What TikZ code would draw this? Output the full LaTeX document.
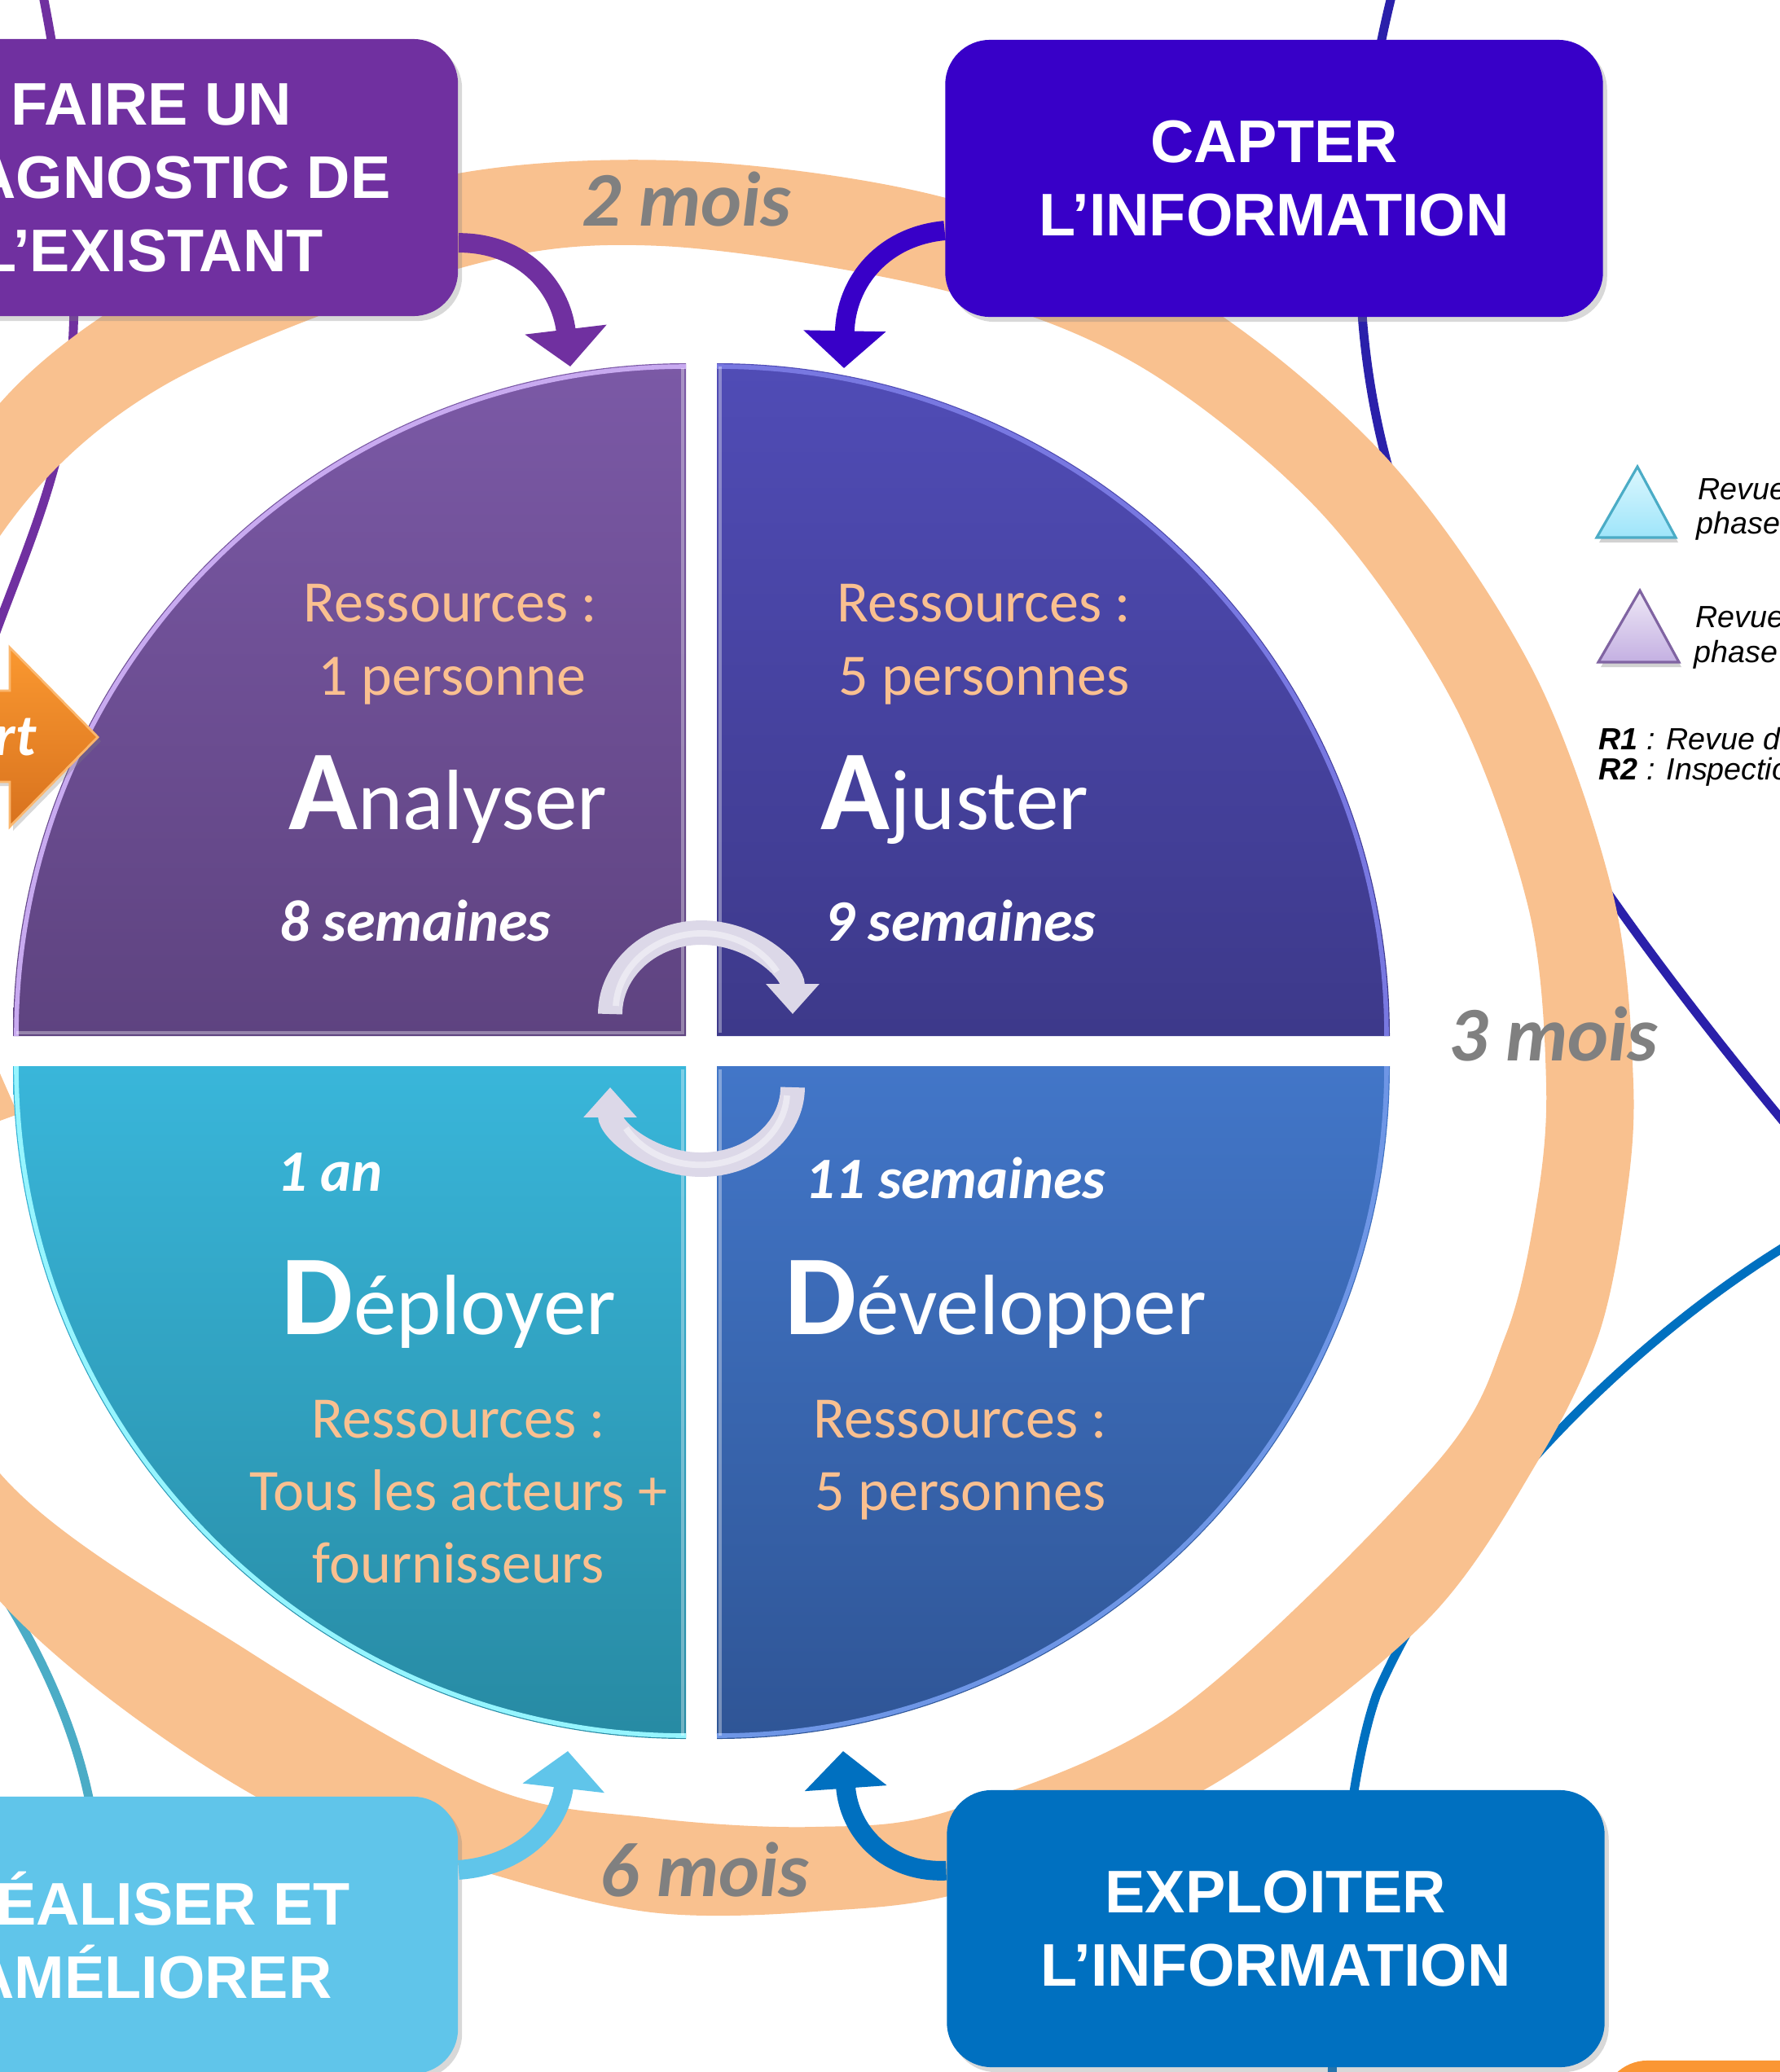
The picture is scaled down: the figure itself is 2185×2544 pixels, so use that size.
\documentclass[tikz,border=0pt]{standalone}
\usepackage{fontspec}
\setmainfont{Liberation Sans}
\newfontfamily\calfont{Carlito}
\usetikzlibrary{arrows.meta,shadows}
\definecolor{ringc}{RGB}{249,193,143}
\definecolor{peach}{RGB}{250,192,144}
\definecolor{boxpurple}{RGB}{112,48,160}
\definecolor{boxviolet}{RGB}{56,0,200}
\definecolor{boxlight}{RGB}{96,197,234}
\definecolor{boxblue}{RGB}{0,112,192}
\definecolor{boxorange}{RGB}{250,150,51}
\definecolor{linedark}{RGB}{42,32,170}
\definecolor{lineteal}{RGB}{75,172,198}
\definecolor{durgray}{RGB}{128,128,128}
\definecolor{ulTop}{RGB}{123,89,166}
\definecolor{ulBot}{RGB}{94,67,128}
\definecolor{urTop}{RGB}{80,76,182}
\definecolor{urBot}{RGB}{61,57,138}
\definecolor{llTop}{RGB}{57,182,218}
\definecolor{llBot}{RGB}{39,138,163}
\definecolor{lrTop}{RGB}{66,118,200}
\definecolor{lrBot}{RGB}{47,85,150}
\definecolor{ulRim}{RGB}{200,170,240}
\definecolor{urRim}{RGB}{120,120,225}
\definecolor{llRim}{RGB}{150,245,255}
\definecolor{lrRim}{RGB}{110,150,230}
\definecolor{cyc}{RGB}{220,216,232}
\definecolor{orangeA}{RGB}{250,152,48}
\definecolor{orangeB}{RGB}{216,114,30}
\definecolor{triCyanTop}{RGB}{220,247,254}
\definecolor{triCyanBot}{RGB}{158,229,250}
\definecolor{triCyanLine}{RGB}{75,172,198}
\definecolor{triPurTop}{RGB}{238,232,246}
\definecolor{triPurBot}{RGB}{196,176,226}
\definecolor{triPurLine}{RGB}{128,100,162}
\newcommand{\phword}[2]{{\fontsize{39.8}{40}\selectfont\bfseries #1}{\fontsize{29.9}{30}\selectfont #2}}
\tikzset{
  bigbox/.style={rounded corners=0.55cm, minimum width=8.07cm, minimum height=3.4cm,
     align=center, text=white, inner sep=0pt,
     font=\bfseries\fontsize{21}{25.6}\selectfont,
     drop shadow={opacity=0.3, shadow xshift=0.05cm, shadow yshift=-0.06cm}},
  leftbox/.style={bigbox, minimum width=7.52cm},
  conn/.style={line width=3.1pt},
  fatarrow/.style={line width=6.8pt, -{Triangle[width=28pt,length=13pt]}},
  cycarrow/.style={line width=8.5pt, draw=cyc, -{Triangle[width=18pt,length=10.5pt]}},
  restxt/.style={font=\calfont\fontsize{20.5}{25}\selectfont, text=peach, inner sep=0pt, anchor=base},
  semtxt/.style={font=\calfont\bfseries\itshape\fontsize{20.5}{25}\selectfont, text=white, inner sep=0pt, anchor=base},
  phtxt/.style={font=\calfont, text=white, inner sep=0pt, anchor=base},
  moistxt/.style={font=\calfont\bfseries\itshape\fontsize{27}{30}\selectfont, text=durgray, inner sep=0pt, anchor=base},
  legtxt/.style={font=\itshape\fontsize{10.7}{12}\selectfont, text=black, inner sep=0pt, anchor=base west}
}
\begin{document}
\begin{tikzpicture}[x=0.01cm, y=-0.01cm]
\useasboundingbox (0,0) rectangle (2185,2544);
\fill[white] (0,0) rectangle (2185,2544);

% ---------- thin connectors (under ring and boxes)
\coordinate (pA) at (50,-20);
\coordinate (pB) at (-10,790);
\draw[conn, boxpurple] (pA) .. controls (95,200) and (105,420) .. (70,560) .. controls (50,640) and (15,720) .. (pB);
\coordinate (dA) at (1712,-20);
\coordinate (dB) at (2200,1390);
\draw[conn, linedark] (dA) .. controls (1655,200) and (1650,430) .. (1725,640) .. controls (1800,850) and (1950,1090) .. (dB);
\coordinate (eA) at (2200,1525);
\coordinate (eB) at (1635,2560);
\draw[conn, boxblue] (eA) .. controls (2010,1640) and (1790,1850) .. (1690,2080) .. controls (1665,2150) and (1640,2300) .. (eB);
\coordinate (tA) at (-50,1880);
\coordinate (tB) at (115,2240);
\draw[conn, lineteal] (tA) .. controls (30,1985) and (95,2110) .. (tB);

% ---------- peach ring
\fill[ringc, even odd rule]
  plot[smooth cycle, tension=0.55] coordinates {(850,198) (1161,243) (1450,356) (1700,560) (1880,820) (1980,1098) (2005,1330) (1995,1480) (1962,1640) (1890,1790) (1750,1991) (1491,2190) (1200,2318) (1000,2347) (800,2348) (600,2300) (318,2208) (0,1966) (-220,1620) (-290,1250) (-220,870) (0,495) (280,300) (562,213)}
  plot[smooth cycle, tension=0.55] coordinates {(812,302) (1161,357) (1400,450) (1621,629) (1784,863) (1876,1114) (1898,1330) (1886,1480) (1848,1640) (1760,1800) (1446,2100) (1170,2222) (1000,2243) (800,2232) (600,2194) (306,2028) (0,1809) (-150,1500) (-180,1230) (-130,950) (0,658) (200,474) (562,330)};
\fill[ringc] (0,1318) -- (22,1368) -- (0,1376) -- cycle;

\node[moistxt] (m2) at (843,277) {2 mois};
\node[moistxt] (m3) at (1907,1302) {3 mois};
\node[moistxt] (m6) at (865,2328) {6 mois};

% ---------- boxes
\node[leftbox, fill=boxpurple] (b1) at (186,218) {FAIRE UN\\DIAGNOSTIC DE\\L’EXISTANT};
\node[bigbox, fill=boxviolet] (b2) at (1564,219) {CAPTER\\L’INFORMATION};
\node[leftbox, fill=boxlight] (b3) at (186,2376) {RÉALISER ET\\AMÉLIORER};
\node[bigbox, fill=boxblue] (b4) at (1566,2368) {EXPLOITER\\L’INFORMATION};
\node[bigbox, fill=boxorange] (b5) at (2371,2700) {};

% ---------- fat curved arrows from boxes
\coordinate (t1) at (700,450);
\coordinate (t2) at (1036,452);
\coordinate (t3) at (697,2150);
\coordinate (t4) at (1035,2150);
\draw[fatarrow, boxpurple] (b1.-12.3) .. controls (640,298) and (688,350) .. (t1);
\draw[fatarrow, boxviolet] (b2.189.7) .. controls (1085,290) and (1038,345) .. (t2);
\draw[fatarrow, boxlight] (b3.12.7) .. controls (635,2291) and (686,2245) .. (t3);
\draw[fatarrow, boxblue] (b4.170.4) .. controls (1090,2300) and (1042,2250) .. (t4);

% ---------- quadrants
\shade[top color=ulTop, bottom color=ulBot] (842,1272) -- (16,1272) arc[start angle=180, end angle=270, radius=826] -- cycle;
\shade[top color=urTop, bottom color=urBot] (880,1272) -- (880,446) arc[start angle=270, end angle=360, radius=826] -- cycle;
\shade[top color=llTop, bottom color=llBot] (842,1309) -- (16,1309) arc[start angle=180, end angle=90, radius=826] -- cycle;
\shade[top color=lrTop, bottom color=lrBot] (880,1309) -- (880,2135) arc[start angle=90, end angle=0, radius=826] -- cycle;
\draw[ulRim, line width=1.6pt] (20,1272) arc[start angle=180, end angle=270, radius=822];
\draw[urRim, line width=1.6pt] (880,450) arc[start angle=270, end angle=360, radius=822];
\draw[llRim, line width=1.6pt] (20,1309) arc[start angle=180, end angle=90, radius=822];
\draw[lrRim, line width=1.6pt] (880,2131) arc[start angle=90, end angle=0, radius=822];
\draw[white, opacity=0.35, line width=1.2pt] (838,452) -- (838,1268) -- (20,1268);
\draw[white, opacity=0.35, line width=1.2pt] (838,1313) -- (838,2131);
\draw[white, opacity=0.35, line width=1.2pt] (884,450) -- (884,1268);
\draw[white, opacity=0.35, line width=1.2pt] (884,1313) -- (884,2131);

% ---------- quadrant texts
\node[restxt] (q1r) at (553,763) {Ressources :};
\node[restxt] (q1p) at (555,853) {1 personne};
\node[phtxt] (q1n) at (550,1018) {\phword{A}{nalyser}};
\node[semtxt] (q1s) at (510,1155) {8 semaines};

\node[restxt] (q2r) at (1208,763) {Ressources :};
\node[restxt] (q2p) at (1208,853) {5 personnes};
\node[phtxt] (q2n) at (1172,1018) {\phword{A}{juster}};
\node[semtxt] (q2s) at (1179,1155) {9 semaines};

\node[semtxt] (q3s) at (405,1462) {1 an};
\node[phtxt] (q3n) at (551,1638) {\phword{D}{éployer}};
\node[restxt] (q3r) at (563,1765) {Ressources :};
\node[restxt] (q3a) at (563,1854) {Tous les acteurs +};
\node[restxt] (q3f) at (563,1943) {fournisseurs};

\node[semtxt] (q4s) at (1173,1471) {11 semaines};
\node[phtxt] (q4n) at (1222,1638) {\phword{D}{évelopper}};
\node[restxt] (q4r) at (1179,1765) {Ressources :};
\node[restxt] (q4p) at (1179,1854) {5 personnes};

% ---------- central cycle arrows
\draw[cycarrow] (749,1245) arc[start angle=180, end angle=360, x radius=112, y radius=100];
\draw[white, opacity=0.45, line width=2.2pt] (756,1235) arc[start angle=183, end angle=330, x radius=106, y radius=94];
\draw[cycarrow] (973,1335) arc[start angle=0, end angle=180, x radius=112, y radius=95];
\draw[white, opacity=0.45, line width=2.2pt] (966,1345) arc[start angle=3, end angle=150, x radius=106, y radius=90];

% ---------- start arrow
\shade[top color=orangeA, bottom color=orangeB, draw=orangeA!70!white, line width=0.8pt,
  drop shadow={opacity=0.3, shadow xshift=0.04cm, shadow yshift=-0.05cm}]
  (-80,848) -- (12,848) -- (12,795) -- (120,905) -- (12,1015) -- (12,960) -- (-80,960) -- cycle;
\node[semtxt, anchor=base east] (st) at (45,927) {Départ};

% ---------- legend
\fill[black, opacity=0.18] (1963,666) -- (2013,579) -- (2060,666) -- cycle;
\shade[top color=triCyanTop, bottom color=triCyanBot, draw=triCyanLine, line width=0.9pt] (1960,660) -- (2010,573) -- (2057,660) -- cycle;
\fill[black, opacity=0.18] (1965,819) -- (2016,731) -- (2064,819) -- cycle;
\shade[top color=triPurTop, bottom color=triPurBot, draw=triPurLine, line width=0.9pt] (1962,813) -- (2013,725) -- (2061,813) -- cycle;
\node[legtxt] (l1a) at (2084,613) {Revue de};
\node[legtxt] (l1b) at (2082,655) {phase};
\node[legtxt] (l2a) at (2081,770) {Revue de};
\node[legtxt] (l2b) at (2079,813) {phase};
\node[legtxt] (r1) at (1962,920) {\textbf{R1} : Revue de};
\node[legtxt] (r2) at (1962,957) {\textbf{R2} : Inspection};
\end{tikzpicture}
\end{document}
